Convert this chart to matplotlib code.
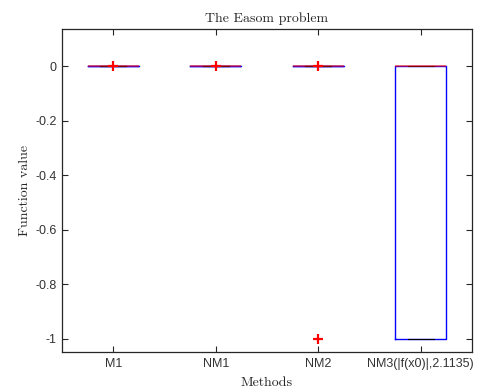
import matplotlib
matplotlib.use("Agg")
import matplotlib.pyplot as plt

plt.rcParams['axes.unicode_minus'] = False

# Box statistics per method
methods = ["M1", "NM1", "NM2", "NM3(|f(x0)|,2.1135)"]
q1 = [0.0, 0.0, 0.0, -1.0]
medians = [0.0, 0.0, 0.0, 0.0]
q3 = [0.0, 0.0, 0.0, 0.0]
whisker_low = [0.0, 0.0, 0.0, -1.0]
whisker_high = [0.0, 0.0, 0.0, 0.0]
outliers = [[-1e-4], [-1e-4], [-1e-4, -1.0], []]

y_ticks = [-1, -0.8, -0.6, -0.4, -0.2, 0]
y_tick_labels = ["-1", "-0.8", "-0.6", "-0.4", "-0.2", "0"]

stats = []
for i, name in enumerate(methods):
    stats.append(dict(label=name, q1=q1[i], med=medians[i], q3=q3[i],
                      whislo=whisker_low[i], whishi=whisker_high[i],
                      fliers=outliers[i]))

fig = plt.figure(figsize=(4.81, 3.91), dpi=100)
ax = fig.add_axes([62/481, 1 - 352/391, 410/481, (352 - 28.7)/391])

ax.bxp(stats, positions=[1, 2, 3, 4], widths=0.5, showfliers=True,
       boxprops=dict(color=(0, 0, 1), linewidth=1.0),
       medianprops=dict(color=(1, 0, 0), linewidth=1.2, alpha=0.6),
       whiskerprops=dict(color='black', linestyle='--', linewidth=0.8),
       capprops=dict(color='black', linewidth=0.8),
       flierprops=dict(marker='+', markeredgecolor=(1, 0, 0),
                       markersize=7, markeredgewidth=1.6, linestyle='none'))

ax.set_xlim(0.5, 4.5)
ax.set_ylim(-1.048, 0.137)
ax.set_yticks(y_ticks)
ax.set_yticklabels(y_tick_labels)
ax.set_xticks([1, 2, 3, 4])
ax.set_xticklabels(methods)

for lbl in ax.get_xticklabels() + ax.get_yticklabels():
    lbl.set_fontfamily('Liberation Sans')
    lbl.set_fontsize(9)
    lbl.set_color('#333333')

ax.tick_params(direction='in', length=4, width=0.8, color='#262626',
               top=True, right=True, pad=4)
for sp in ax.spines.values():
    sp.set_color('#262626')
    sp.set_linewidth(0.9)

serif = dict(fontfamily='cmr10', fontsize=10, color='#262626')
ax.set_title("The Easom problem", pad=5, **serif)
ax.set_xlabel("Methods", labelpad=5, **serif)
ax.set_ylabel("Function value", labelpad=3, **serif)

fig.savefig("out.png", dpi=100)
